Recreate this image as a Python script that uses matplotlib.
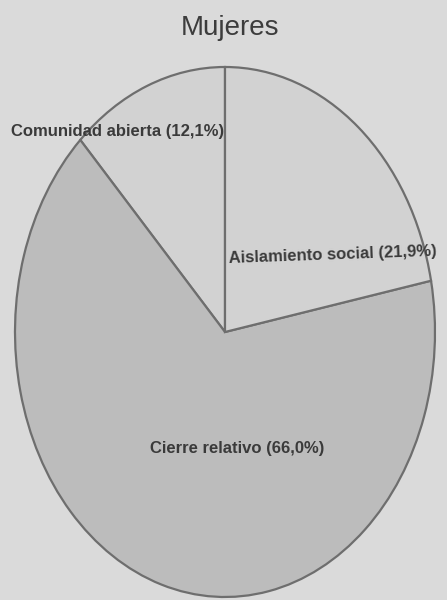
import matplotlib.pyplot as plt

categorias = ['Comunidad abierta', 'Cierre relativo', 'Aislamiento social']
porcentajes = [12.1, 66.0, 21.9]
colores = ['#d2d2d2', '#bcbcbc', '#d2d2d2']
# posiciones de las etiquetas dentro de la elipse (coordenadas de datos)
pos_etiquetas = [(-0.51, 0.755), (0.06, -0.44), (0.515, 0.29)]
rot_etiquetas = [0, 0, 2]

fig = plt.figure(figsize=(4.47, 6), dpi=100)
fig.patch.set_facecolor('#dadada')

ax = fig.add_axes([15 / 447, 3 / 600, 420 / 447, 530 / 600])
ax.pie(porcentajes, colors=colores, startangle=90, counterclock=True,
       wedgeprops=dict(edgecolor='#6e6e6e', linewidth=1.6))
ax.set_aspect('auto')
ax.set_xlim(-1, 1)
ax.set_ylim(-1, 1)
ax.axis('off')

for cat, p, (x, y), rot in zip(categorias, porcentajes, pos_etiquetas, rot_etiquetas):
    etiqueta = f'{cat} ({p:.1f}%)'.replace('.', ',')
    ax.text(x, y, etiqueta, ha='center', va='center', fontsize=12,
            fontweight='bold', color='#3a3a3a', rotation=rot,
            family='Liberation Sans')

fig.text(0.515, 0.953, 'Mujeres', ha='center', va='center', fontsize=20,
         color='#3c3c3c', family='Liberation Sans')

plt.savefig('out.png', dpi=100, facecolor=fig.get_facecolor())
